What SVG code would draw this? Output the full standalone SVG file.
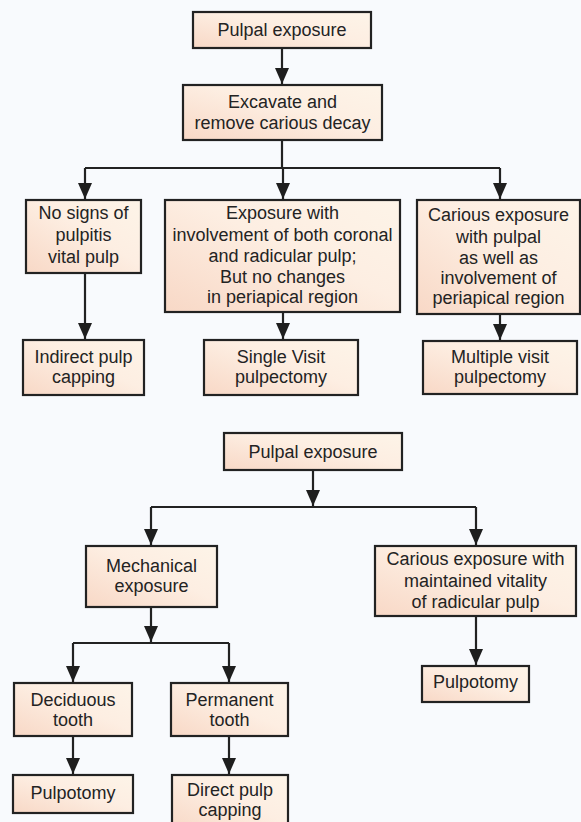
<svg xmlns="http://www.w3.org/2000/svg" width="581" height="822" viewBox="0 0 581 822">
<defs>
<linearGradient id="fill" x1="0" y1="1" x2="1" y2="0">
<stop offset="0" stop-color="#f8d8c6"/>
<stop offset="0.55" stop-color="#fdeee2"/>
<stop offset="1" stop-color="#fdf4e8"/>
</linearGradient>
<marker id="ah" markerUnits="userSpaceOnUse" markerWidth="16" markerHeight="14" refX="16" refY="7" orient="auto" viewBox="0 0 16 14">
<path d="M0,0 L16,7 L0,14 Z" fill="#1e1e1e"/>
</marker>
<style>
.box{fill:url(#fill);stroke:#222;stroke-width:2.2}
.t{font-family:"Liberation Sans",Arial,sans-serif;font-size:18px;fill:#232323;text-anchor:middle}
.c{fill:none;stroke:#222;stroke-width:2.2}
.a{marker-end:url(#ah)}
</style>
</defs>
<rect width="581" height="822" fill="#f8fafd"/>
<g id="connectors">
<path class="c a" d="M282,48 V84"/>
<path class="c" d="M282,140 V168"/>
<path class="c" d="M85,168 H500"/>
<path class="c a" d="M85,168 V199"/>
<path class="c a" d="M283,168 V199"/>
<path class="c a" d="M500,168 V199"/>
<path class="c a" d="M85,273 V339"/>
<path class="c a" d="M283,312 V339"/>
<path class="c a" d="M500,314 V340"/>
<path class="c a" d="M313,470 V506"/>
<path class="c" d="M151,507 H476"/>
<path class="c a" d="M151,507 V545"/>
<path class="c a" d="M476,507 V545"/>
<path class="c a" d="M476,616 V665"/>
<path class="c a" d="M151,607 V642"/>
<path class="c" d="M73,643 H229"/>
<path class="c a" d="M73,643 V682"/>
<path class="c a" d="M229,643 V682"/>
<path class="c a" d="M73,736 V774"/>
<path class="c a" d="M229,736 V774"/>
</g>
<g id="n1"><rect class="box" x="193" y="12" width="178" height="36"/><text class="t" x="282" y="36">Pulpal exposure</text></g>
<g id="n2"><rect class="box" x="183" y="85" width="199" height="55"/><text class="t" x="282.5" y="108">Excavate and</text><text class="t" x="282.5" y="129">remove carious decay</text></g>
<g id="n3"><rect class="box" x="26" y="200" width="115" height="73"/><text class="t" x="83.5" y="219">No signs of</text><text class="t" x="83.5" y="241">pulpitis</text><text class="t" x="83.5" y="263">vital pulp</text></g>
<g id="n4"><rect class="box" x="165" y="200" width="235" height="112"/><text class="t" x="282.5" y="219">Exposure with</text><text class="t" x="282.5" y="241">involvement of both coronal</text><text class="t" x="282.5" y="262">and radicular pulp;</text><text class="t" x="282.5" y="283">But no changes</text><text class="t" x="282.5" y="303">in periapical region</text></g>
<g id="n5"><rect class="box" x="417" y="200" width="163" height="114"/><text class="t" x="498.5" y="221">Carious exposure</text><text class="t" x="498.5" y="243">with pulpal</text><text class="t" x="498.5" y="264">as well as</text><text class="t" x="498.5" y="284">involvement of</text><text class="t" x="498.5" y="304">periapical region</text></g>
<g id="n6"><rect class="box" x="23" y="340" width="121" height="55"/><text class="t" x="83.5" y="363">Indirect pulp</text><text class="t" x="83.5" y="383">capping</text></g>
<g id="n7"><rect class="box" x="204" y="340" width="154" height="55"/><text class="t" x="281" y="363">Single Visit</text><text class="t" x="281" y="383">pulpectomy</text></g>
<g id="n8"><rect class="box" x="423" y="341" width="154" height="53"/><text class="t" x="500" y="363">Multiple visit</text><text class="t" x="500" y="383">pulpectomy</text></g>
<g id="n9"><rect class="box" x="224" y="433" width="178" height="37"/><text class="t" x="313" y="458">Pulpal exposure</text></g>
<g id="n10"><rect class="box" x="86" y="546" width="131" height="61"/><text class="t" x="151.5" y="572">Mechanical</text><text class="t" x="151.5" y="592">exposure</text></g>
<g id="n11"><rect class="box" x="375" y="546" width="201" height="70"/><text class="t" x="475.5" y="565">Carious exposure with</text><text class="t" x="475.5" y="587">maintained vitality</text><text class="t" x="475.5" y="608">of radicular pulp</text></g>
<g id="n12"><rect class="box" x="422" y="666" width="107" height="36"/><text class="t" x="475.5" y="688">Pulpotomy</text></g>
<g id="n13"><rect class="box" x="14" y="683" width="118" height="53"/><text class="t" x="73" y="706">Deciduous</text><text class="t" x="73" y="726">tooth</text></g>
<g id="n14"><rect class="box" x="171" y="683" width="117" height="53"/><text class="t" x="229.5" y="706">Permanent</text><text class="t" x="229.5" y="726">tooth</text></g>
<g id="n15"><rect class="box" x="13" y="775" width="120" height="38"/><text class="t" x="73" y="799">Pulpotomy</text></g>
<g id="n16"><rect class="box" x="172" y="775" width="116" height="55"/><text class="t" x="230" y="796">Direct pulp</text><text class="t" x="230" y="816">capping</text></g>
</svg>
